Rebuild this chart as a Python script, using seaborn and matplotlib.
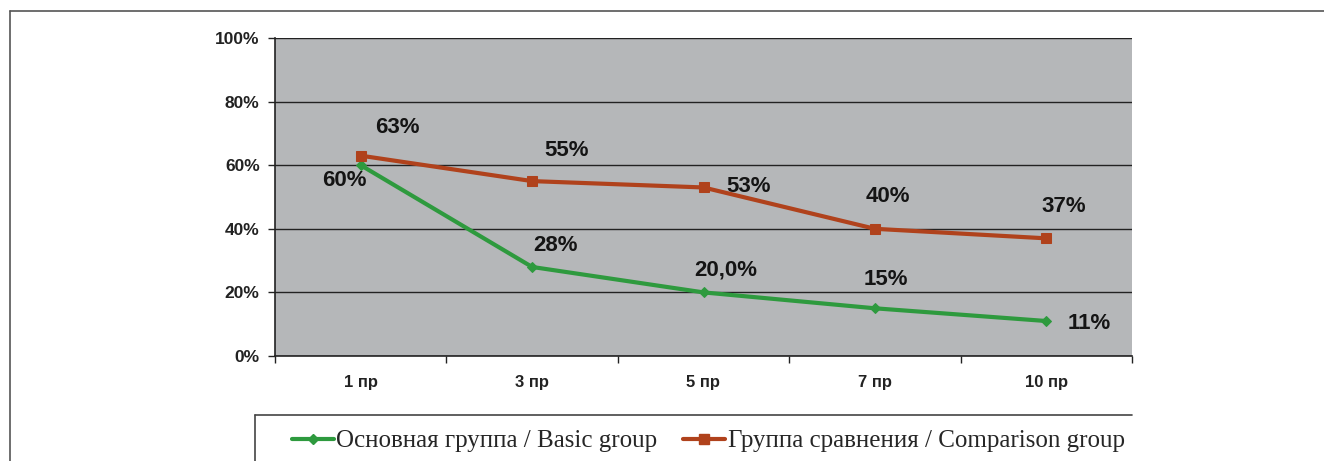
import matplotlib
matplotlib.use("Agg")
import matplotlib.pyplot as plt
import seaborn as sns
import pandas as pd
from matplotlib.lines import Line2D

# ---- data ----
periods = ["1 пр", "3 пр", "5 пр", "7 пр", "10 пр"]
basic_vals = [60, 28, 20, 15, 11]
comp_vals = [63, 55, 53, 40, 37]
basic_labels = ["60%", "28%", "20,0%", "15%", "11%"]
comp_labels = ["63%", "55%", "53%", "40%", "37%"]
basic_name = "Основная группа / Basic group"
comp_name = "Группа сравнения / Comparison group"
y_ticks = [0, 20, 40, 60, 80, 100]
y_ticklabels = ["0%", "20%", "40%", "60%", "80%", "100%"]

# ---- styles / positions ----
green = "#2e9a3e"
red = "#b0421c"
bg = "#b5b7b9"
basic_offsets = [(-16, -15), (23, 21), (22, 22), (11, 29), (43, -2)]
comp_offsets = [(37, 28), (34, 31), (45, 1), (13, 32), (17, 32)]

sns.set_theme(style="white")
plt.rcParams["font.family"] = ["Liberation Sans", "DejaVu Sans"]

W, H = 1324, 461
fig = plt.figure(figsize=(W / 100, H / 100), dpi=100)
ax = fig.add_axes([275 / W, 1 - 356 / H, (1132 - 275) / W, (356 - 38) / H])
ax.set_facecolor(bg)

df_b = pd.DataFrame({"period": periods, "value": basic_vals})
df_c = pd.DataFrame({"period": periods, "value": comp_vals})

sns.lineplot(data=df_b, x="period", y="value", ax=ax, color=green, lw=3,
             marker="D", markersize=5, markeredgecolor=green, sort=False)
sns.lineplot(data=df_c, x="period", y="value", ax=ax, color=red, lw=3,
             marker="s", markersize=7, markeredgecolor=red, sort=False)

for i, (v, lab, off) in enumerate(zip(basic_vals, basic_labels, basic_offsets)):
    ax.annotate(lab, (i, v), xytext=off, textcoords="offset pixels",
                ha="center", va="center", fontsize=16, fontweight="bold", color="#141414")
for i, (v, lab, off) in enumerate(zip(comp_vals, comp_labels, comp_offsets)):
    ax.annotate(lab, (i, v), xytext=off, textcoords="offset pixels",
                ha="center", va="center", fontsize=16, fontweight="bold", color="#141414")

ax.set_xlim(-0.5, len(periods) - 0.5)
ax.set_ylim(0, 100)
ax.set_yticks(y_ticks)
ax.set_yticklabels(y_ticklabels, fontsize=12.5, fontweight="bold", color="#222222")
ax.set_xticks(range(len(periods)))
ax.set_xticklabels(periods, fontsize=12, fontweight="bold", color="#222222")
ax.set_xticks([i - 0.5 for i in range(len(periods) + 1)], minor=True)
ax.tick_params(axis="x", which="major", length=0, pad=14)
ax.tick_params(axis="x", which="minor", length=5, width=1, color="#222222", direction="out", bottom=True)
ax.tick_params(axis="y", which="major", length=5, width=1, color="#222222", direction="out", left=True, pad=6)
ax.set_xlabel("")
ax.set_ylabel("")
ax.grid(axis="y", color="#222222", lw=1)
ax.set_axisbelow(True)
for s in ["top", "right"]:
    ax.spines[s].set_visible(False)
for s in ["left", "bottom"]:
    ax.spines[s].set_color("#222222")
    ax.spines[s].set_linewidth(1.2)

# outer frame (top and left edges)
fig.add_artist(Line2D([10 / W, 1], [1 - 11 / H, 1 - 11 / H], transform=fig.transFigure, color="#555555", lw=1.2))
fig.add_artist(Line2D([10 / W, 10 / W], [0, 1 - 11 / H], transform=fig.transFigure, color="#555555", lw=1.2))
# legend box edges
fig.add_artist(Line2D([255 / W, 1132 / W], [1 - 415 / H, 1 - 415 / H], transform=fig.transFigure, color="#444444", lw=1.2))
fig.add_artist(Line2D([255 / W, 255 / W], [0, 1 - 415 / H], transform=fig.transFigure, color="#444444", lw=1.2))

handles = [Line2D([], [], color=green, lw=3, marker="D", markersize=5),
           Line2D([], [], color=red, lw=3, marker="s", markersize=7)]
fig.legend(handles, [basic_name, comp_name], loc="center left",
           bbox_to_anchor=(279 / W, 1 - 441 / H), ncol=2, frameon=False,
           prop={"family": "Liberation Serif", "size": 18},
           handlelength=1.7, handletextpad=0.1, columnspacing=1.0, borderpad=0)

fig.savefig("out.png", dpi=100)
